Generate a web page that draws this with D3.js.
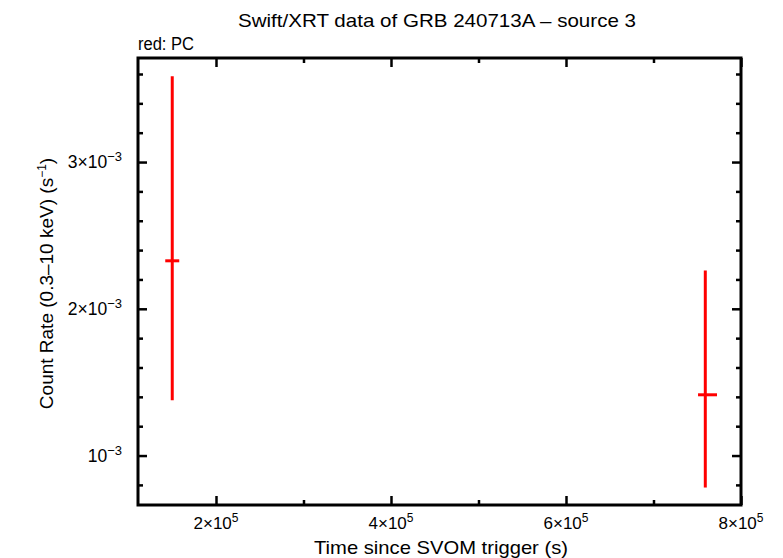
<!DOCTYPE html>
<html>
<head>
<meta charset="utf-8">
<script src="https://cdn.jsdelivr.net/npm/d3@7"></script>
<style>
  html, body { margin: 0; padding: 0; background: #fff; }
  svg { display: block; }
  text { font-family: "Liberation Sans", Arial, Helvetica, sans-serif; fill: #000; }
</style>
</head>
<body>
<svg id="chart" width="783" height="558"></svg>
<script>
// ---- data ----
const times       = [1.50e5, 7.592e5];
const timeErrNeg  = [8000, 8300];
const timeErrPos  = [8000, 13400];
const rates       = [2.327e-3, 1.414e-3];
const rateErrPos  = [1.257e-3, 0.847e-3];
const rateErrNeg  = [0.950e-3, 0.632e-3];

const xMajorTicks = [2e5, 4e5, 6e5, 8e5];
const xMinorTicks = [3e5, 5e5, 7e5];
const xTickLabels = [["2×10", "5"], ["4×10", "5"], ["6×10", "5"], ["8×10", "5"]];
const yMajorTicks = [1e-3, 2e-3, 3e-3];
const yMinorTicks = [0.8e-3, 1.2e-3, 1.4e-3, 1.6e-3, 1.8e-3, 2.2e-3, 2.4e-3, 2.6e-3, 2.8e-3, 3.2e-3, 3.4e-3, 3.6e-3];
const yTickLabels = [["10", "−3"], ["2×10", "−3"], ["3×10", "−3"]];

const titleText = "Swift/XRT data of GRB 240713A – source 3";
const subText = "red: PC";
const xLabel = "Time since SVOM trigger (s)";

// ---- layout ----
const L = 138, R = 741, T = 58, B = 505;
const svg = d3.select("#chart");

const x = d3.scaleLinear().domain([1.1086e5, 8e5]).range([L, R]);
const y = d3.scaleLinear().domain([0.663e-3, 3.709e-3]).range([B, T]);

function styleAxis(g) {
  g.select(".domain").remove();
  g.selectAll(".tick line").attr("stroke", "#000").attr("stroke-width", 2.5);
  g.selectAll(".tick text").remove();
}
const axes = [
  [d3.axisBottom(x).tickValues(xMajorTicks).tickSize(-9), `translate(0,${B})`],
  [d3.axisBottom(x).tickValues(xMinorTicks).tickSize(-5), `translate(0,${B})`],
  [d3.axisTop(x).tickValues(xMajorTicks).tickSize(-9), `translate(0,${T})`],
  [d3.axisTop(x).tickValues(xMinorTicks).tickSize(-5), `translate(0,${T})`],
  [d3.axisLeft(y).tickValues(yMajorTicks).tickSize(-9), `translate(${L},0)`],
  [d3.axisLeft(y).tickValues(yMinorTicks).tickSize(-5), `translate(${L},0)`],
  [d3.axisRight(y).tickValues(yMajorTicks).tickSize(-9), `translate(${R},0)`],
  [d3.axisRight(y).tickValues(yMinorTicks).tickSize(-5), `translate(${R},0)`]
];
axes.forEach(([ax, tr]) => svg.append("g").attr("transform", tr).call(ax.tickFormat("")).call(styleAxis));

// frame
svg.append("rect").attr("x", L).attr("y", T).attr("width", R - L).attr("height", B - T)
  .attr("fill", "none").attr("stroke", "#000").attr("stroke-width", 3);

// tick labels
xMajorTicks.forEach((v, i) => {
  const t = svg.append("text").attr("x", x(v)).attr("y", B + 24)
    .attr("text-anchor", "middle").attr("font-size", 17);
  t.append("tspan").text(xTickLabels[i][0]);
  t.append("tspan").attr("font-size", 12).attr("dy", -7).text(xTickLabels[i][1]);
});
yMajorTicks.forEach((v, i) => {
  const t = svg.append("text").attr("x", 122).attr("y", y(v) + 6)
    .attr("text-anchor", "end").attr("font-size", 17.5);
  t.append("tspan").text(yTickLabels[i][0]);
  t.append("tspan").attr("font-size", 13).attr("dy", -7).text(yTickLabels[i][1]);
});

// titles
svg.append("text").attr("x", 437).attr("y", 27).attr("text-anchor", "middle")
  .attr("font-size", 19).attr("textLength", 398).attr("lengthAdjust", "spacingAndGlyphs").text(titleText);
svg.append("text").attr("x", L).attr("y", 50).attr("font-size", 18)
  .attr("textLength", 56).attr("lengthAdjust", "spacingAndGlyphs").text(subText);
svg.append("text").attr("x", 441).attr("y", 554).attr("text-anchor", "middle")
  .attr("font-size", 19).attr("textLength", 254).attr("lengthAdjust", "spacingAndGlyphs").text(xLabel);
const yl = svg.append("text").attr("transform", "translate(53,283.5) rotate(-90)")
  .attr("text-anchor", "middle").attr("font-size", 19);
yl.append("tspan").text("Count Rate (0.3–10 keV) (s");
yl.append("tspan").attr("font-size", 12).attr("dy", -7).text("−1");
yl.append("tspan").attr("dy", 7).text(")");

// data error bars
const pts = times.map((t, i) => ({t, r: rates[i], tn: timeErrNeg[i], tp: timeErrPos[i], rp: rateErrPos[i], rn: rateErrNeg[i]}));
const g = svg.append("g");
g.selectAll("line.v").data(pts).join("line").attr("class", "v")
  .attr("x1", d => x(d.t)).attr("x2", d => x(d.t))
  .attr("y1", d => y(d.r + d.rp)).attr("y2", d => y(d.r - d.rn))
  .attr("stroke", "#ff0000").attr("stroke-width", 3);
g.selectAll("line.h").data(pts).join("line").attr("class", "h")
  .attr("x1", d => x(d.t - d.tn)).attr("x2", d => x(d.t + d.tp))
  .attr("y1", d => y(d.r)).attr("y2", d => y(d.r))
  .attr("stroke", "#ff0000").attr("stroke-width", 3);
</script>
</body>
</html>
